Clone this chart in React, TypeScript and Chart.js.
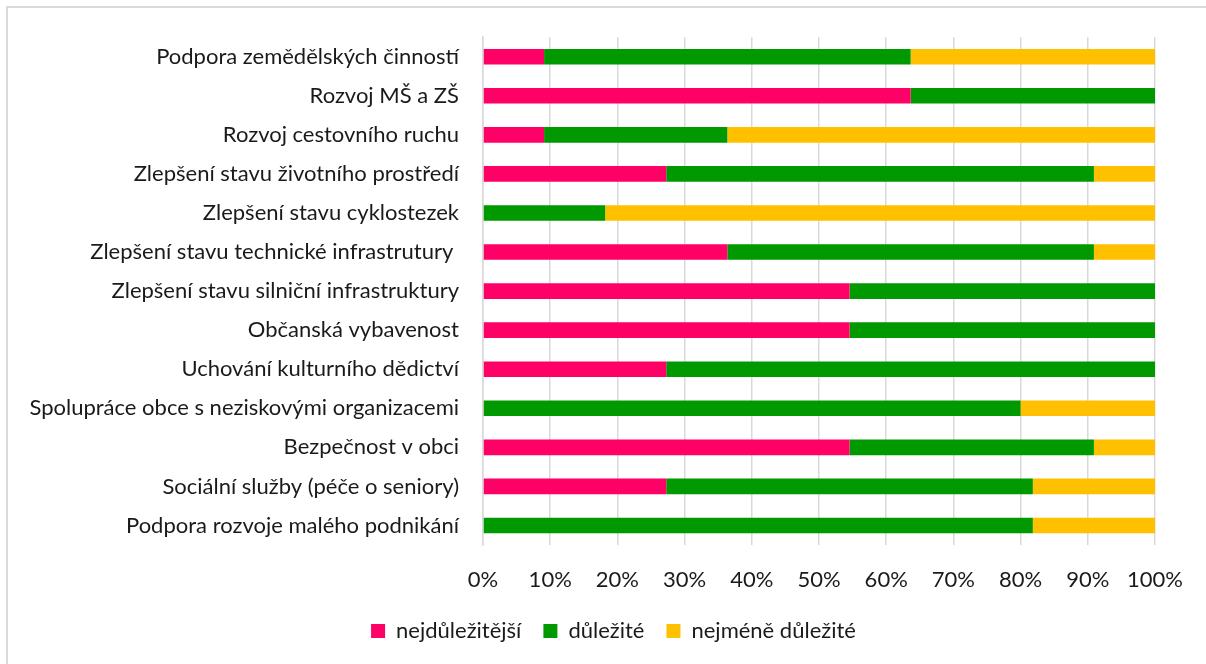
import React, { useEffect, useRef } from "react";
import { Chart, registerables } from "chart.js";

Chart.register(...registerables);

const categories = [
  "Podpora zemědělských činností",
  "Rozvoj MŠ a ZŠ",
  "Rozvoj cestovního ruchu",
  "Zlepšení stavu životního prostředí",
  "Zlepšení stavu cyklostezek",
  "Zlepšení stavu technické infrastrutury ",
  "Zlepšení stavu silniční infrastruktury",
  "Občanská vybavenost",
  "Uchování kulturního dědictví",
  "Spolupráce obce s neziskovými organizacemi",
  "Bezpečnost v obci",
  "Sociální služby (péče o seniory)",
  "Podpora rozvoje malého podnikání",
];

const seriesNames = ["nejdůležitější", "důležité", "nejméně důležité"];

const nejdulezitejsi = [9.09, 63.64, 9.09, 27.27, 0, 36.36, 54.55, 54.55, 27.27, 0, 54.55, 27.27, 0];
const dulezite = [54.55, 36.36, 27.27, 63.64, 18.18, 54.55, 45.45, 45.45, 72.73, 80, 36.36, 54.55, 81.82];
const nejmeneDulezite = [36.36, 0, 63.64, 9.09, 81.82, 9.09, 0, 0, 0, 20, 9.09, 18.18, 18.18];

const xTicks = [0, 10, 20, 30, 40, 50, 60, 70, 80, 90, 100];

const colors = ["#FF0066", "#009900", "#FFC000"];

const FONT = "Lato, 'Open Sans', sans-serif";
const FS = 22;
const LEGEND_SHIFT = 36;

const shiftLegend = {
  id: "shiftLegend",
  afterLayout(chart: any) {
    const l = chart.legend;
    if (l) {
      l.left += LEGEND_SHIFT;
      l.right += LEGEND_SHIFT;
    }
  },
};

export default function App() {
  const ref = useRef<HTMLCanvasElement | null>(null);

  useEffect(() => {
    document.body.style.overflow = "hidden";
    const ctx = ref.current!.getContext("2d")!;
    const chart = new Chart(ctx, {
      type: "bar",
      data: {
        labels: categories,
        datasets: [nejdulezitejsi, dulezite, nejmeneDulezite].map((d, i) => ({
          label: seriesNames[i],
          data: d,
          backgroundColor: colors[i],
          borderWidth: 0,
          categoryPercentage: 1,
          barPercentage: 0.4,
        })),
      },
      plugins: [shiftLegend],
      options: {
        indexAxis: "y",
        responsive: false,
        animation: false,
        maintainAspectRatio: false,
        layout: { padding: { top: 37, right: 51, bottom: 12, left: 0 } },
        plugins: {
          legend: {
            position: "bottom",
            labels: {
              boxWidth: 14,
              boxHeight: 14,
              padding: 22,
              color: "#1a1a1a",
              font: { family: FONT, size: FS },
            },
          },
          tooltip: { enabled: false },
        },
        scales: {
          x: {
            stacked: true,
            min: 0,
            max: 100,
            afterBuildTicks: (s: any) => {
              s.ticks = xTicks.map((v) => ({ value: v }));
            },
            afterFit: (s: any) => {
              s.height = 53;
            },
            ticks: {
              callback: (v: any) => v + "%",
              padding: 22,
              color: "#1a1a1a",
              font: { family: FONT, size: FS },
              maxRotation: 0,
            },
            grid: { color: "#d9d9d9", lineWidth: 1.5, drawTicks: false },
            border: { display: false },
          },
          y: {
            stacked: true,
            afterFit: (s: any) => {
              s.width = 483;
            },
            ticks: {
              padding: 24,
              color: "#1a1a1a",
              font: { family: FONT, size: FS },
              autoSkip: false,
            },
            grid: { display: false, drawTicks: false },
            border: { display: true, color: "#d9d9d9", width: 1.5 },
          },
        },
      },
    });
    return () => chart.destroy();
  }, []);

  return (
    <div style={{ position: "fixed", left: 0, top: 0, width: 1206, height: 664, background: "#fff", overflow: "hidden" }}>
      <div
        style={{
          position: "absolute",
          left: 6,
          top: 6,
          width: 1300,
          height: 800,
          border: "2px solid #d9d9d9",
          boxSizing: "border-box",
        }}
      />
      <canvas ref={ref} width={1206} height={664} style={{ position: "absolute", left: 0, top: 0 }} />
    </div>
  );
}
